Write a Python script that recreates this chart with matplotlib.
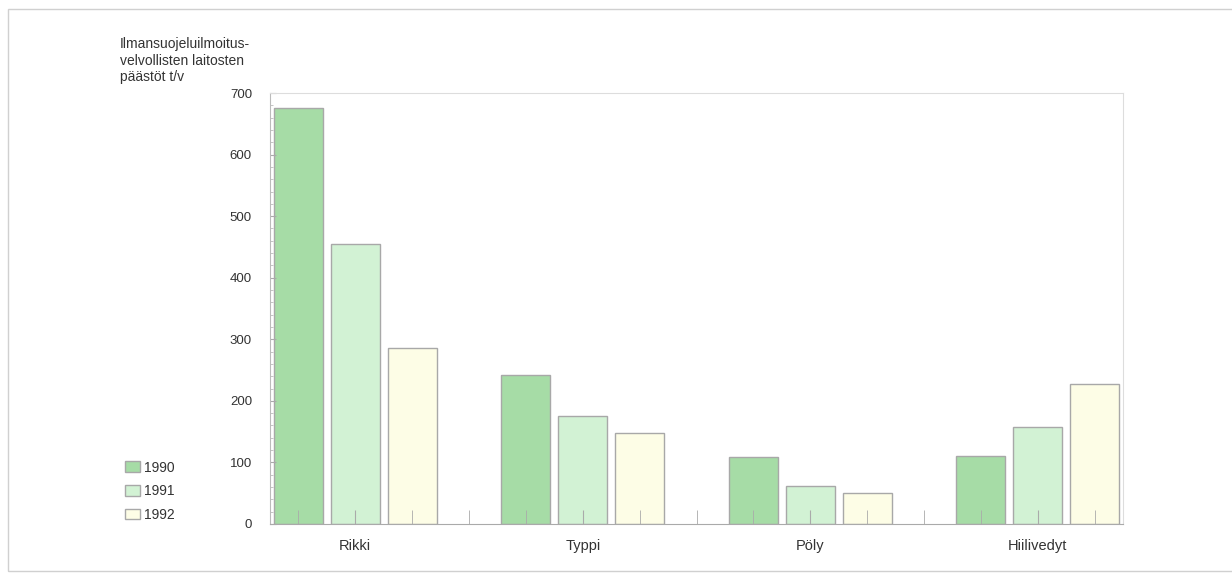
import matplotlib.pyplot as plt
from matplotlib.patches import Rectangle

plt.rcParams['font.family'] = ['Liberation Sans', 'DejaVu Sans']

# päästöt t/v
kategoriat = ["Rikki", "Typpi", "Pöly", "Hiilivedyt"]
vuodet = ["1990", "1991", "1992"]
arvot_1990 = [675, 242, 109, 110]
arvot_1991 = [455, 175, 62, 157]
arvot_1992 = [286, 148, 50, 227]
y_ticks = [0, 100, 200, 300, 400, 500, 600, 700]

varit = ["#a6dca6", "#d2f2d4", "#fdfde6"]
sarjat = [arvot_1990, arvot_1991, arvot_1992]

fig = plt.figure(figsize=(12.32, 5.73), dpi=100)
ax = fig.add_axes([270/1232, 1 - 524/573, (1123 - 270)/1232, (524 - 93)/573])

n = len(vuodet) + 1  # paikat ryhmässä (3 palkkia + väli)
paikat = len(kategoriat) * n - 1
for j, (arvot, vari, vuosi) in enumerate(zip(sarjat, varit, vuodet)):
    xs = [i * n + j for i in range(len(kategoriat))]
    ax.bar(xs, arvot, width=0.86, color=vari, edgecolor="#a8a8a8",
           linewidth=1.0, label=vuosi)

ax.set_xlim(-0.5, paikat - 0.5)
ax.set_ylim(0, 700)
ax.set_yticks(y_ticks)
ax.set_yticklabels([str(t) for t in y_ticks], fontsize=9.5, color="#333333")
ax.set_yticks(range(0, 701, 20), minor=True)
ax.set_xticks([i * n + 1 for i in range(len(kategoriat))])
ax.set_xticklabels(kategoriat, fontsize=10.5, color="#333333")
ax.set_xticks(range(paikat), minor=True)
ax.tick_params(axis="x", which="both", direction="in", length=10,
               color="#aaaaaa", pad=11)
ax.tick_params(axis="y", which="major", direction="in", length=4,
               color="#aaaaaa", pad=13)
ax.tick_params(axis="y", which="minor", direction="in", length=2,
               color="#bbbbbb")

for s in ["top", "right"]:
    ax.spines[s].set_color("#dddddd")
ax.spines["left"].set_color("#bbbbbb")
ax.spines["bottom"].set_color("#aaaaaa")

fig.text(120/1232, 1 - 37/573,
         "Ilmansuojeluilmoitus-\nvelvollisten laitosten\npäästöt t/v",
         fontsize=10, color="#333333", va="top", ha="left", linespacing=1.25)

fig.legend(loc="upper left", bbox_to_anchor=(112/1232, 1 - 448/573),
           frameon=False, fontsize=10, handlelength=1.1, handleheight=0.8,
           handletextpad=0.3, labelspacing=0.7, labelcolor="#333333")

# kehys kuvan ympärillä
fig.patches.append(Rectangle((8/1232, 2/573), 1.0, 1 - 11/573,
                             transform=fig.transFigure, fill=False,
                             edgecolor="#d0d0d0", linewidth=1.0))

fig.savefig("out.png", dpi=100)
